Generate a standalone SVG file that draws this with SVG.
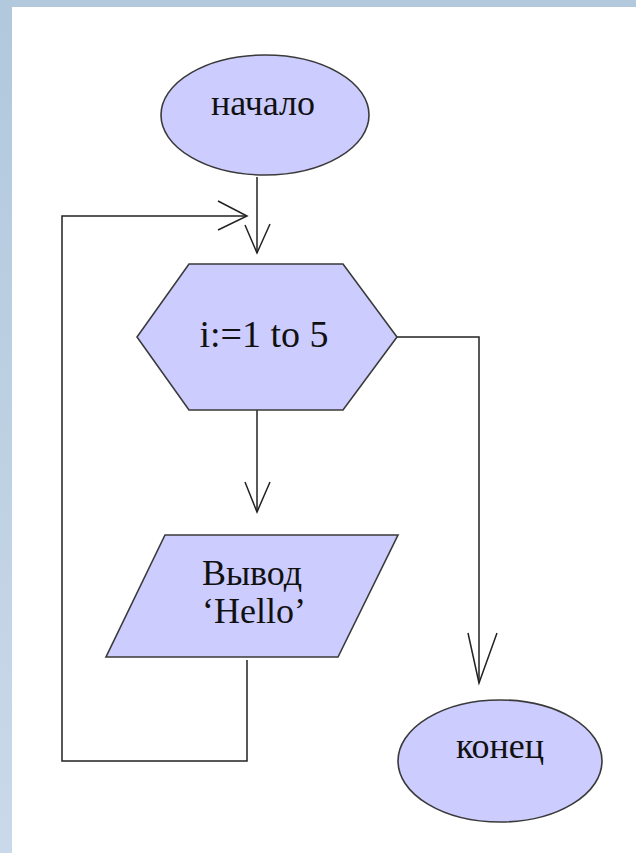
<svg xmlns="http://www.w3.org/2000/svg" width="636" height="853" viewBox="0 0 636 853">
  <defs>
    <linearGradient id="band" x1="0" y1="0" x2="0" y2="1">
      <stop offset="0" stop-color="#B1C8DD"/>
      <stop offset="1" stop-color="#C9D9E9"/>
    </linearGradient>
  </defs>
  <style>
    .shape { fill: #CCCCFF; stroke: #3a3a3a; stroke-width: 1.6; }
    .conn { fill: none; stroke: #222; stroke-width: 1.5; }
    .lbl { font-family: "Liberation Serif", "Times New Roman", serif; font-size: 36px; fill: #111; text-anchor: middle; }
  </style>
  <rect x="0" y="0" width="636" height="853" fill="#FFFFFF"/>
  <rect x="0" y="0" width="636" height="7" fill="#B1C8DD"/>
  <rect x="0" y="0" width="12" height="853" fill="url(#band)"/>

  <g id="connectors">
    <path class="conn" d="M257 177 V253"/>
    <path class="conn" d="M245 225 L257 253 L270 224"/>
    <path class="conn" d="M257 410 V512"/>
    <path class="conn" d="M245 482 L257 512 L270 482"/>
    <path class="conn" d="M247 660 V761 H62 V216 H247"/>
    <path class="conn" d="M218 201 L247 216 L218 230"/>
    <path class="conn" d="M397 337 H479 V683"/>
    <path class="conn" d="M468 633 L479 683 L497 633"/>
  </g>

  <g id="start">
    <ellipse class="shape" cx="265" cy="115" rx="104" ry="60"/>
    <text class="lbl" x="263" y="115">начало</text>
  </g>

  <g id="loop">
    <polygon class="shape" points="189,264 343,264 397,337 343,410 189,410 137,337"/>
    <text class="lbl" x="264" y="347" style="font-size:38px">i:=1 to 5</text>
  </g>

  <g id="output">
    <polygon class="shape" points="165,535 398,535 338,657 106,657"/>
    <text class="lbl" x="252" y="585">Вывод</text>
    <text class="lbl" x="254" y="623">‘Hello’</text>
  </g>

  <g id="end">
    <ellipse class="shape" cx="500" cy="761" rx="102" ry="61"/>
    <text class="lbl" x="500" y="758">конец</text>
  </g>
</svg>
